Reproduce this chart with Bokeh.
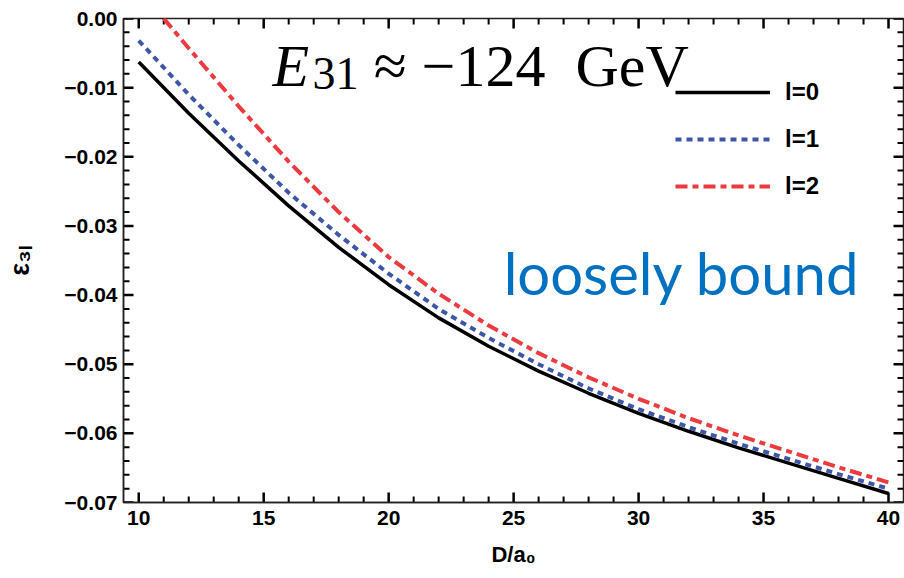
from bokeh.plotting import figure
from bokeh.models import (FixedTicker, Label, Legend, LegendItem,
                          CustomJSTickFormatter, Range1d)
from bokeh.embed import file_html
from bokeh.resources import INLINE

# ---- data ----
x_l0 = [10, 12, 14, 16, 18, 20, 22, 24, 26, 28, 30, 32, 34, 36, 38, 40]
eps_l0 = [-0.0063, -0.0137, -0.0206, -0.0271, -0.0331, -0.0385, -0.0433, -0.0474,
          -0.0510, -0.0542, -0.0571, -0.0597, -0.0621, -0.0643, -0.0665, -0.0687]
x_l1 = [10, 12, 14, 16, 18, 20, 22, 24, 26, 28, 30, 32, 34, 36, 38, 40]
eps_l1 = [-0.0032, -0.0110, -0.0183, -0.0252, -0.0313, -0.0369, -0.0420, -0.0462,
          -0.0500, -0.0535, -0.0565, -0.0591, -0.0615, -0.0637, -0.0659, -0.0680]
x_l2 = [11, 12, 14, 16, 18, 20, 22, 24, 26, 28, 30, 32, 34, 36, 38, 40]
eps_l2 = [0.0000, -0.0043, -0.0127, -0.0207, -0.0280, -0.0345, -0.0398, -0.0444,
          -0.0484, -0.0519, -0.0550, -0.0578, -0.0603, -0.0626, -0.0649, -0.0671]
series_labels = ["l=0", "l=1", "l=2"]

x_ticks = [10, 15, 20, 25, 30, 35, 40]
x_minor = [t for t in range(10, 41) if t % 5 != 0]
y_ticks = [-0.07, -0.06, -0.05, -0.04, -0.03, -0.02, -0.01, 0.0]
y_minor = [round(-0.07 + 0.002 * i, 3) for i in range(36) if i % 5 != 0]

title_parts = ["E", "31", "\u2248 \u2212124\u00a0\u00a0GeV"]
note_text = "loosely bound"

x0, x1 = 9.39, 40.6
y0, y1 = -0.07, 0.0

# ---- figure ----
p = figure(width=904, height=578, output_backend="svg", toolbar_location=None,
           x_range=Range1d(x0, x1), y_range=Range1d(y0, y1))
p.min_border_left = 123
p.min_border_right = 1
p.min_border_top = 18
p.min_border_bottom = 76
p.xgrid.visible = False
p.ygrid.visible = False
p.outline_line_color = "#222222"
p.outline_line_width = 1.5

tick_font = "Liberation Sans"

def style_axis(ax):
    ax.axis_line_color = "#222222"
    ax.axis_line_width = 1.5
    ax.major_tick_in = 0
    ax.major_tick_out = 0
    ax.minor_tick_in = 0
    ax.minor_tick_out = 0
    ax.major_label_text_font = tick_font
    ax.major_label_text_font_style = "bold"
    ax.major_label_text_color = "black"
    ax.major_label_text_font_size = "21px"

yfmt = CustomJSTickFormatter(code="return (tick < -1e-9 ? '\\u2212' : '') + Math.abs(tick).toFixed(2);")

xa = p.xaxis[0]
xa.ticker = FixedTicker(ticks=x_ticks)
style_axis(xa)
xa.major_label_standoff = 8
xa.axis_label = "D/a\u2080"
xa.axis_label_text_font = tick_font
xa.axis_label_text_font_style = "bold"
xa.axis_label_text_font_size = "22px"
xa.axis_label_text_color = "black"
xa.axis_label_standoff = 14

ya = p.yaxis[0]
ya.ticker = FixedTicker(ticks=y_ticks)
ya.formatter = yfmt
style_axis(ya)
ya.major_label_standoff = 6
ya.axis_label = "\u03b5\u2083\u2097"
ya.axis_label_text_font = tick_font
ya.axis_label_text_font_style = "bold"
ya.axis_label_text_font_size = "27px"
ya.axis_label_text_color = "black"
ya.axis_label_standoff = 26

# ---- inward tick marks on all four sides ----
px_x = (x1 - x0) / 780.0
px_y = (y1 - y0) / 484.0
tick_col = "black"
for ticks, ln, lw in ((x_ticks, 10, 2.5), (x_minor, 6, 2.0)):
    n = len(ticks)
    p.segment(x0=ticks, y0=[y0] * n, x1=ticks, y1=[y0 + ln * px_y] * n,
              line_color=tick_col, line_width=lw)
    p.segment(x0=ticks, y0=[y1] * n, x1=ticks, y1=[y1 - ln * px_y] * n,
              line_color=tick_col, line_width=lw)
for ticks, ln, lw in ((y_ticks, 10, 2.5), (y_minor, 6, 2.0)):
    n = len(ticks)
    p.segment(x0=[x0] * n, y0=ticks, x1=[x0 + ln * px_x] * n, y1=ticks,
              line_color=tick_col, line_width=lw)
    p.segment(x0=[x1] * n, y0=ticks, x1=[x1 - ln * px_x] * n, y1=ticks,
              line_color=tick_col, line_width=lw)

# ---- curves ----
r0 = p.line(x_l0, eps_l0, line_color="black", line_width=3.5)
r1 = p.line(x_l1, eps_l1, line_color="#3d56a8", line_width=4, line_dash="6 5")
r2 = p.line(x_l2, eps_l2, line_color="#ec3a3e", line_width=4, line_dash="12 5 6 5")

legend = Legend(items=[LegendItem(label=series_labels[0], renderers=[r0]),
                       LegendItem(label=series_labels[1], renderers=[r1]),
                       LegendItem(label=series_labels[2], renderers=[r2])],
                location=(552, 301))
legend.border_line_color = None
legend.background_fill_alpha = 0
legend.padding = 0
legend.margin = 0
legend.spacing = 17
legend.glyph_width = 95
legend.glyph_height = 30
legend.label_height = 30
legend.label_standoff = 15
legend.label_text_font = tick_font
legend.label_text_font_style = "bold"
legend.label_text_font_size = "24px"
legend.label_text_color = "black"
p.add_layout(legend)

# ---- title-like annotation ----
serif = "Liberation Serif"
p.add_layout(Label(x=15.35, y=-0.0068, text=title_parts[0], text_font=serif,
                   text_font_style="italic", text_font_size="60px",
                   text_baseline="alphabetic", text_color="black"))
p.add_layout(Label(x=16.95, y=-0.0080, text=title_parts[1], text_font=serif,
                   text_font_size="46px", text_baseline="alphabetic",
                   text_color="black"))
p.add_layout(Label(x=19.4, y=-0.0068, text=title_parts[2], text_font=serif,
                   text_font_size="60px", text_baseline="alphabetic",
                   text_color="black"))

p.add_layout(Label(x=24.6, y=-0.0367, text=note_text, text_font="Lato",
                   text_font_size="58px", text_baseline="alphabetic",
                   text_color="#0070c0"))

open("out.html", "w").write(file_html(p, INLINE))
